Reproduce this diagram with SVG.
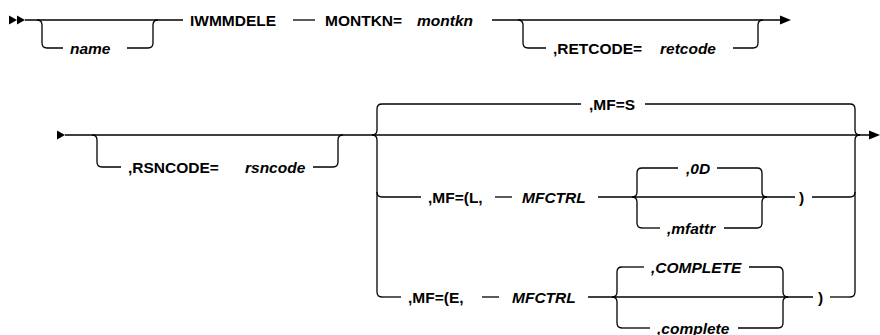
<svg xmlns="http://www.w3.org/2000/svg" width="880" height="335" viewBox="0 0 880 335">
<style>
.l{fill:none;stroke:#000;stroke-width:1.3}
.a{fill:#000}
text{font-family:"Liberation Sans",Arial,sans-serif;font-size:15.5px;font-weight:bold;fill:#000}
.i{font-style:italic}
</style>
<rect width="880" height="335" fill="#fff"/>
<g id="connectors">
<!-- row 1 -->
<polygon class="a" points="9,15.5 17,20 9,24.5"/>
<polygon class="a" points="17,15.5 25,20 17,24.5"/>
<path class="l" d="M25,20 H183"/>
<path class="l" d="M37,20 q5,0 5,5 v18 q0,5 5,5 h16"/>
<path class="l" d="M127,48 h21 q5,0 5,-5 v-18 q0,-5 5,-5"/>
<path class="l" d="M293,20 H315"/>
<path class="l" d="M492,20 H781"/>
<path class="l" d="M518,20 q5,0 5,5 v18 q0,5 5,5 h18"/>
<path class="l" d="M733,48 h20 q5,0 5,-5 v-18 q0,-5 5,-5"/>
<polygon class="a" points="780,15.5 791,20 780,24.5"/>
<!-- row 2 -->
<polygon class="a" points="57,130.5 65,135 57,139.5"/>
<path class="l" d="M65,135 H870"/>
<path class="l" d="M92,135 q5,0 5,5 v22 q0,5 5,5 h19"/>
<path class="l" d="M313,167 h20 q5,0 5,-5 v-22 q0,-5 5,-5"/>
<!-- left brace -->
<path class="l" d="M382,104 q-5,0 -5,5 v21 q0,5 -5,5"/>
<path class="l" d="M372,135 q5,0 5,5 v152 q0,5 5,5"/>
<path class="l" d="M377,192 q0,5 5,5"/>
<!-- MF=S -->
<path class="l" d="M382,104 H581"/>
<path class="l" d="M645,104 H850 q5,0 5,5 v21 q0,5 5,5"/>
<!-- right brace -->
<path class="l" d="M860,135 q-5,0 -5,5 v152 q0,5 -5,5"/>
<path class="l" d="M850,197 q5,0 5,-5"/>
<polygon class="a" points="869,130.5 880,135 869,139.5"/>
<!-- MF=(L row -->
<path class="l" d="M382,197 H421"/>
<path class="l" d="M495,197 H512"/>
<path class="l" d="M598,197 H795"/>
<path class="l" d="M812,197 H850"/>
<path class="l" d="M642,168 q-5,0 -5,5 v19 q0,5 -5,5 q5,0 5,5 v21 q0,5 5,5"/>
<path class="l" d="M642,168 H678"/>
<path class="l" d="M717,168 H757 q5,0 5,5 v19 q0,5 5,5"/>
<path class="l" d="M642,228 H660"/>
<path class="l" d="M724,228 H757 q5,0 5,-5 v-21 q0,-5 5,-5"/>
<!-- MF=(E row -->
<path class="l" d="M382,297 H401"/>
<path class="l" d="M482,297 H499"/>
<path class="l" d="M588,297 H813"/>
<path class="l" d="M830,297 H850"/>
<path class="l" d="M622,267 q-5,0 -5,5 v20 q0,5 -5,5 q5,0 5,5 v21 q0,5 5,5"/>
<path class="l" d="M622,267 H644"/>
<path class="l" d="M749,267 H778 q5,0 5,5 v20 q0,5 5,5"/>
<path class="l" d="M622,328 H650"/>
<path class="l" d="M738,328 H778 q5,0 5,-5 v-21 q0,-5 5,-5"/>
</g>
<g id="name"><text class="i" x="70" y="53.5">name</text></g>
<g id="iwmmdele"><text x="190" y="25.5">IWMMDELE</text></g>
<g id="montkn"><text x="325" y="25.5">MONTKN=</text><text class="i" x="417" y="25.5">montkn</text></g>
<g id="retcode"><text x="553" y="53.5">,RETCODE=</text><text class="i" x="660" y="53.5">retcode</text></g>
<g id="rsncode"><text x="128" y="172.5">,RSNCODE=</text><text class="i" x="245" y="172.5">rsncode</text></g>
<g id="mfs"><text x="589" y="109.5">,MF=S</text></g>
<g id="mfl"><text x="428" y="202.5">,MF=(L,</text><text class="i" x="522" y="202.5">MFCTRL</text><text x="799" y="202.5">)</text></g>
<g id="od"><text class="i" x="686" y="173.5">,0D</text></g>
<g id="mfattr"><text class="i" x="667" y="233.5">,mfattr</text></g>
<g id="mfe"><text x="408" y="302.5">,MF=(E,</text><text class="i" x="512" y="302.5">MFCTRL</text><text x="818" y="302.5">)</text></g>
<g id="complete-upper"><text class="i" x="651" y="272.5">,COMPLETE</text></g>
<g id="complete-lower"><text class="i" x="657" y="333.5">,complete</text></g>
</svg>
